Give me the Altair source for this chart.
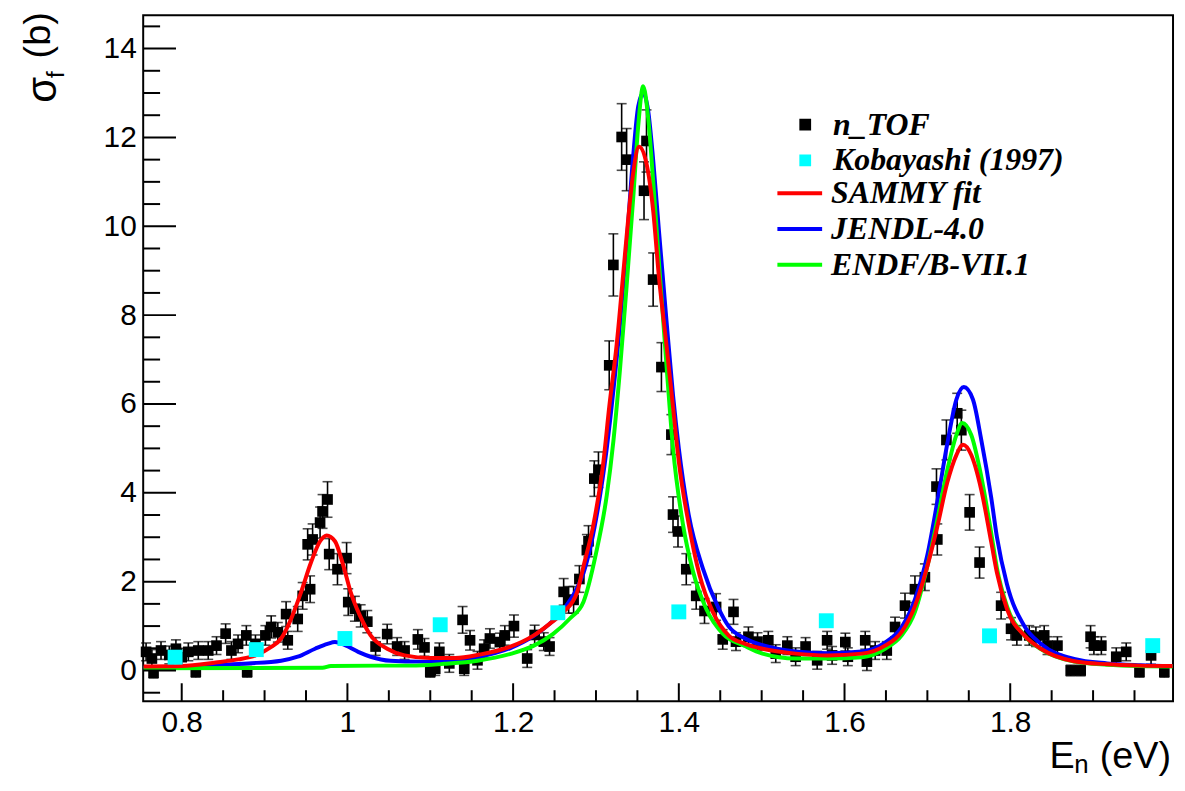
import altair as alt
import pandas as pd

# ---------------- data ----------------
ntof_E = [0.757, 0.764, 0.766, 0.775, 0.785, 0.793, 0.800, 0.808, 0.817, 0.820,
          0.832, 0.842, 0.853, 0.860, 0.868, 0.878, 0.879, 0.889, 0.901, 0.908,
          0.916, 0.926, 0.928, 0.940, 0.946, 0.952, 0.955, 0.958, 0.967, 0.970,
          0.976, 0.978, 0.988, 0.999, 1.001, 1.009, 1.016, 1.024, 1.034, 1.048,
          1.060, 1.069, 1.085, 1.093, 1.100, 1.106, 1.111, 1.123, 1.139, 1.141,
          1.148, 1.157, 1.165, 1.172, 1.184, 1.190, 1.201, 1.217, 1.226, 1.237,
          1.244, 1.261, 1.267, 1.273, 1.280, 1.289, 1.291, 1.298, 1.303, 1.316,
          1.321, 1.331, 1.337, 1.358, 1.361, 1.369, 1.379, 1.391, 1.393, 1.399,
          1.409, 1.421, 1.431, 1.445, 1.453, 1.466, 1.469, 1.484, 1.495, 1.508,
          1.517, 1.531, 1.541, 1.553, 1.567, 1.579, 1.585, 1.601, 1.604, 1.625,
          1.627, 1.637, 1.651, 1.661, 1.673, 1.685, 1.697, 1.711, 1.712, 1.723,
          1.736, 1.741, 1.751, 1.763, 1.789, 1.801, 1.808, 1.823, 1.831, 1.841,
          1.845, 1.857, 1.873, 1.885, 1.897, 1.901, 1.910, 1.928, 1.940, 1.956,
          1.970, 1.986]
ntof_sig = [0.42, 0.27, -0.05, 0.45, 0.35, 0.49, 0.30, 0.42, -0.03, 0.45,
            0.45, 0.56, 0.83, 0.45, 0.60, 0.79, -0.03, 0.60, 0.79, 0.98,
            0.86, 1.27, 0.68, 1.16, 1.68, 2.84, 1.83, 2.95, 3.33, 3.58,
            3.85, 2.62, 2.28, 2.53, 1.54, 1.39, 1.23, 1.10, 0.54, 0.82,
            0.54, 0.45, 0.70, 0.52, -0.03, 0.04, 0.42, 0.16, 1.14, 0.04,
            0.68, 0.23, 0.49, 0.72, 0.64, 0.79, 1.00, 0.27, 0.80, 0.65,
            0.54, 1.77, 1.59, 1.59, 2.06, 2.71, 2.91, 4.32, 4.52, 6.87,
            9.13, 12.01, 11.50, 10.80, 11.92, 8.80, 6.83, 5.31, 3.51, 3.13,
            2.28, 1.68, 1.34, 1.43, 0.70, 1.32, 0.65, 0.76, 0.65, 0.68,
            0.38, 0.56, 0.31, 0.54, 0.23, 0.68, 0.34, 0.64, 0.31, 0.68,
            0.20, 0.45, 0.45, 0.98, 1.46, 1.83, 2.10, 4.14, 2.95, 5.19,
            5.79, 5.41, 3.56, 2.43, 1.46, 0.94, 0.79, 0.79, 0.76, 0.79,
            0.56, 0.56, 0.00, 0.00, 0.76, 0.56, 0.56, 0.31, 0.42, -0.03,
            0.34, -0.03]
ntof_err = [0.20, 0.20, 0.12, 0.20, 0.20, 0.20, 0.20, 0.20, 0.12, 0.20,
            0.20, 0.20, 0.22, 0.20, 0.20, 0.22, 0.12, 0.20, 0.22, 0.25,
            0.22, 0.28, 0.20, 0.28, 0.30, 0.35, 0.30, 0.35, 0.35, 0.38,
            0.40, 0.35, 0.35, 0.35, 0.30, 0.28, 0.25, 0.25, 0.20, 0.22,
            0.20, 0.20, 0.22, 0.20, 0.12, 0.15, 0.20, 0.20, 0.30, 0.15,
            0.22, 0.20, 0.20, 0.22, 0.20, 0.22, 0.25, 0.20, 0.22, 0.20,
            0.20, 0.30, 0.30, 0.30, 0.30, 0.35, 0.35, 0.40, 0.40, 0.55,
            0.70, 0.75, 0.70, 0.65, 0.70, 0.60, 0.55, 0.45, 0.40, 0.35,
            0.35, 0.30, 0.28, 0.30, 0.22, 0.28, 0.20, 0.22, 0.20, 0.20,
            0.20, 0.20, 0.20, 0.20, 0.20, 0.20, 0.20, 0.20, 0.20, 0.20,
            0.20, 0.20, 0.20, 0.22, 0.28, 0.30, 0.30, 0.40, 0.35, 0.45,
            0.45, 0.45, 0.40, 0.35, 0.30, 0.25, 0.22, 0.22, 0.22, 0.22,
            0.20, 0.20, 0.12, 0.12, 0.25, 0.20, 0.20, 0.20, 0.20, 0.12,
            0.20, 0.12]

kob_E = [0.792, 0.890, 0.997, 1.112, 1.254, 1.400, 1.578, 1.775, 1.972]
kob_sig = [0.30, 0.47, 0.72, 1.03, 1.30, 1.32, 1.12, 0.78, 0.56]

sammy_E = [0.754, 0.800, 0.841, 0.868, 0.889, 0.908, 0.920, 0.932, 0.944, 0.956,
           0.967, 0.975, 0.985, 0.994, 1.004, 1.015, 1.028, 1.048, 1.069, 1.100,
           1.130, 1.160, 1.196, 1.225, 1.244, 1.261, 1.277, 1.285, 1.297, 1.309,
           1.316, 1.325, 1.333, 1.339, 1.345, 1.352, 1.361, 1.369, 1.376, 1.385,
           1.393, 1.400, 1.412, 1.425, 1.441, 1.460, 1.480, 1.501, 1.541, 1.580,
           1.621, 1.649, 1.669, 1.685, 1.700, 1.712, 1.724, 1.735, 1.743, 1.753,
           1.765, 1.777, 1.784, 1.796, 1.817, 1.837, 1.877, 1.917, 1.957, 1.996]
sammy_sig = [0.09, 0.10, 0.18, 0.25, 0.34, 0.53, 0.72, 1.16, 1.76, 2.43,
             2.91, 3.04, 2.91, 2.43, 1.76, 1.24, 0.79, 0.49, 0.34, 0.28,
             0.28, 0.36, 0.53, 0.79, 1.05, 1.32, 1.75, 2.35, 3.29, 4.70,
             5.93, 7.34, 8.95, 10.18, 11.21, 11.79, 11.41, 10.36, 8.86, 7.34,
             5.93, 4.70, 3.29, 2.15, 1.32, 0.79, 0.60, 0.49, 0.38, 0.34,
             0.38, 0.56, 0.87, 1.45, 2.35, 3.24, 4.23, 4.85, 5.08, 4.85,
             4.07, 2.90, 2.20, 1.39, 0.79, 0.49, 0.21, 0.14, 0.11, 0.10]

jendl_E = [0.754, 0.800, 0.840, 0.880, 0.920, 0.940, 0.961, 0.976, 0.985, 0.997,
           1.013, 1.028, 1.052, 1.088, 1.117, 1.157, 1.196, 1.225, 1.244, 1.261,
           1.277, 1.285, 1.300, 1.313, 1.321, 1.329, 1.337, 1.345, 1.351, 1.357,
           1.363, 1.369, 1.376, 1.385, 1.393, 1.400, 1.412, 1.429, 1.448, 1.460,
           1.480, 1.501, 1.541, 1.580, 1.621, 1.649, 1.669, 1.685, 1.700, 1.712,
           1.724, 1.735, 1.744, 1.755, 1.765, 1.777, 1.784, 1.796, 1.817, 1.837,
           1.877, 1.917, 1.957, 1.996]
jendl_sig = [0.07, 0.08, 0.12, 0.16, 0.22, 0.31, 0.49, 0.60, 0.64, 0.57,
             0.42, 0.31, 0.22, 0.20, 0.20, 0.30, 0.50, 0.78, 1.05, 1.38,
             1.85, 2.20, 3.40, 5.00, 6.30, 7.80, 9.60, 11.60, 12.70, 13.00,
             12.60, 11.50, 9.90, 7.90, 6.20, 5.00, 3.50, 2.30, 1.40, 1.00,
             0.72, 0.57, 0.43, 0.39, 0.43, 0.63, 0.98, 1.60, 2.60, 3.80,
             5.10, 6.10, 6.38, 6.10, 5.20, 3.90, 3.00, 1.95, 1.00, 0.60,
             0.26, 0.16, 0.12, 0.10]

endf_E = [0.754, 0.970, 0.980, 1.036, 1.076, 1.117, 1.157, 1.196, 1.225, 1.248,
          1.268, 1.285, 1.300, 1.313, 1.321, 1.329, 1.337, 1.345, 1.351, 1.357,
          1.363, 1.369, 1.376, 1.385, 1.393, 1.405, 1.417, 1.433, 1.453, 1.480,
          1.501, 1.541, 1.580, 1.621, 1.649, 1.669, 1.685, 1.700, 1.712, 1.724,
          1.735, 1.742, 1.753, 1.765, 1.777, 1.784, 1.796, 1.817, 1.837, 1.877,
          1.917, 1.957, 1.996]
endf_sig = [0.05, 0.06, 0.10, 0.11, 0.11, 0.15, 0.22, 0.37, 0.56, 0.82,
            1.16, 1.55, 2.63, 3.94, 5.16, 6.78, 8.66, 10.65, 12.26, 13.15,
            12.44, 11.03, 9.20, 6.90, 5.00, 3.29, 2.24, 1.39, 0.83, 0.55,
            0.38, 0.27, 0.27, 0.30, 0.49, 0.79, 1.32, 2.35, 3.39, 4.51,
            5.30, 5.57, 5.30, 4.37, 3.10, 2.30, 1.45, 0.79, 0.48, 0.20,
            0.13, 0.10, 0.09]

x_major = [0.8, 1.0, 1.2, 1.4, 1.6, 1.8]
x_minor = [0.85, 0.9, 0.95, 1.05, 1.1, 1.15, 1.25, 1.3, 1.35, 1.45, 1.5, 1.55,
           1.65, 1.7, 1.75, 1.85, 1.9, 1.95]
y_major = [0, 2, 4, 6, 8, 10, 12, 14]
y_minor = [-0.5, 0.5, 1, 1.5, 2.5, 3, 3.5, 4.5, 5, 5.5, 6.5, 7, 7.5, 8.5, 9, 9.5,
           10.5, 11, 11.5, 12.5, 13, 13.5, 14.5]

series_pts = ["n_TOF", "Kobayashi (1997)"]
series_lines = ["SAMMY fit", "JENDL-4.0", "ENDF/B-VII.1"]

# ---------------- tables ----------------
ntof = pd.DataFrame({"E": ntof_E, "sig": ntof_sig, "err": ntof_err})
ntof["lo"] = ntof["sig"] - ntof["err"]
ntof["hi"] = ntof["sig"] + ntof["err"]
ntof["series"] = series_pts[0]
kob = pd.DataFrame({"E": kob_E, "sig": kob_sig, "series": series_pts[1]})
sammy = pd.DataFrame({"E": sammy_E, "sig": sammy_sig, "series": series_lines[0]})
jendl = pd.DataFrame({"E": jendl_E, "sig": jendl_sig, "series": series_lines[1]})
endf = pd.DataFrame({"E": endf_E, "sig": endf_sig, "series": series_lines[2]})

W, H = 1036, 690
XDOM = [0.7535, 1.9965]
YDOM = [-0.69, 14.75]

xs = alt.Scale(domain=XDOM, nice=False, zero=False)
ys = alt.Scale(domain=YDOM, nice=False, zero=False)

FONT = "Liberation Sans"
LFONT = "Liberation Serif"

x_axis = alt.Axis(values=x_major, format="~g", labelFontSize=30, labelFont=FONT,
                  labelColor="#000", ticks=False, tickSize=0, domain=False,
                  grid=False, title=None, labelPadding=7, labelFlush=False)
y_axis = alt.Axis(values=y_major, format="d", labelFontSize=30, labelFont=FONT,
                  labelColor="#000", ticks=False, tickSize=0, domain=False,
                  grid=False, title=None, labelPadding=7)

fill_scale = alt.Scale(domain=series_pts, range=["#000000", "#00ffff"])
stroke_scale = alt.Scale(domain=series_lines, range=["#ff0000", "#0000ff", "#00ff00"])

leg_common = dict(orient="none", title=None, padding=0, labelFont=LFONT,
                  labelFontSize=32, labelFontStyle="italic", labelFontWeight="bold",
                  labelColor="#000", clipHeight=30, rowPadding=4, labelLimit=400)
fill_legend = alt.Legend(legendX=650, legendY=95, symbolType="square",
                         symbolSize=140, symbolStrokeWidth=0, labelOffset=12,
                         **leg_common)
stroke_legend = alt.Legend(legendX=636, legendY=164, symbolType="stroke",
                           symbolSize=2025, symbolStrokeWidth=4, labelOffset=7,
                           **leg_common)

X = alt.X("E:Q", scale=xs, axis=x_axis)
Y = alt.Y("sig:Q", scale=ys, axis=y_axis)

err_rule = alt.Chart(ntof).mark_rule(color="#000", strokeWidth=1.6).encode(
    x=alt.X("E:Q", scale=xs), y=alt.Y("lo:Q", scale=ys), y2="hi:Q")
cap_lo = alt.Chart(ntof).mark_tick(color="#000", orient="horizontal", size=10,
                                   thickness=1.6).encode(
    x=alt.X("E:Q", scale=xs), y=alt.Y("lo:Q", scale=ys))
cap_hi = alt.Chart(ntof).mark_tick(color="#000", orient="horizontal", size=10,
                                   thickness=1.6).encode(
    x=alt.X("E:Q", scale=xs), y=alt.Y("hi:Q", scale=ys))

pts = alt.Chart(ntof).mark_square(size=115, filled=True, opacity=1).encode(
    x=X, y=Y, fill=alt.Fill("series:N", scale=fill_scale, legend=fill_legend))
kob_pts = alt.Chart(kob).mark_square(size=225, filled=True, opacity=1).encode(
    x=alt.X("E:Q", scale=xs), y=alt.Y("sig:Q", scale=ys),
    fill=alt.Fill("series:N", scale=fill_scale, legend=fill_legend))


def curve(df):
    return alt.Chart(df).mark_line(strokeWidth=4, interpolate="monotone").encode(
        x=alt.X("E:Q", scale=xs), y=alt.Y("sig:Q", scale=ys),
        stroke=alt.Stroke("series:N", scale=stroke_scale, legend=stroke_legend))


tick_rule = dict(color="#000", strokeWidth=2)
xmaj = alt.Chart(pd.DataFrame({"v": x_major})).mark_rule(**tick_rule).encode(
    x=alt.X("v:Q", scale=xs), y=alt.value(H), y2=alt.value(H - 18))
xmin = alt.Chart(pd.DataFrame({"v": x_minor})).mark_rule(**tick_rule).encode(
    x=alt.X("v:Q", scale=xs), y=alt.value(H), y2=alt.value(H - 11))
ymaj = alt.Chart(pd.DataFrame({"v": y_major})).mark_rule(**tick_rule).encode(
    y=alt.Y("v:Q", scale=ys), x=alt.value(0), x2=alt.value(33))
ymin = alt.Chart(pd.DataFrame({"v": y_minor})).mark_rule(**tick_rule).encode(
    y=alt.Y("v:Q", scale=ys), x=alt.value(0), x2=alt.value(17))


def label(txt, x, y, size, align="left", angle=0):
    kw = dict(align=align, baseline="alphabetic", font=FONT, fontSize=size,
              color="#000")
    if angle:
        kw["angle"] = angle
    return alt.Chart(pd.DataFrame({"t": [txt]})).mark_text(**kw).encode(
        text="t:N", x=alt.value(x), y=alt.value(y))


xt_unit = label("(eV)", 1034, 757, 38, align="right")
xt_sub = label("n", 951, 762, 26, align="right")
xt_E = label("E", 937, 757, 38, align="right")
yt_sig = label("σ", -88, 88, 42, angle=270)
yt_sub = label("f", -80, 63, 24, angle=270)
yt_unit = label("(b)", -94, -3, 38, align="right", angle=270)

chart = alt.layer(
    err_rule, cap_lo, cap_hi, pts,
    curve(jendl), curve(endf), curve(sammy),
    kob_pts,
    xmaj, xmin, ymaj, ymin,
    xt_unit, xt_sub, xt_E, yt_sig, yt_sub, yt_unit,
).properties(
    width=W, height=H,
    autosize=alt.AutoSizeParams(type="none"),
    padding={"left": 136, "top": 5, "right": 4, "bottom": 76},
    background="white",
).configure_view(stroke="#000", strokeWidth=2)

chart.save("out.html", embed_options={"renderer": "svg", "actions": False})
